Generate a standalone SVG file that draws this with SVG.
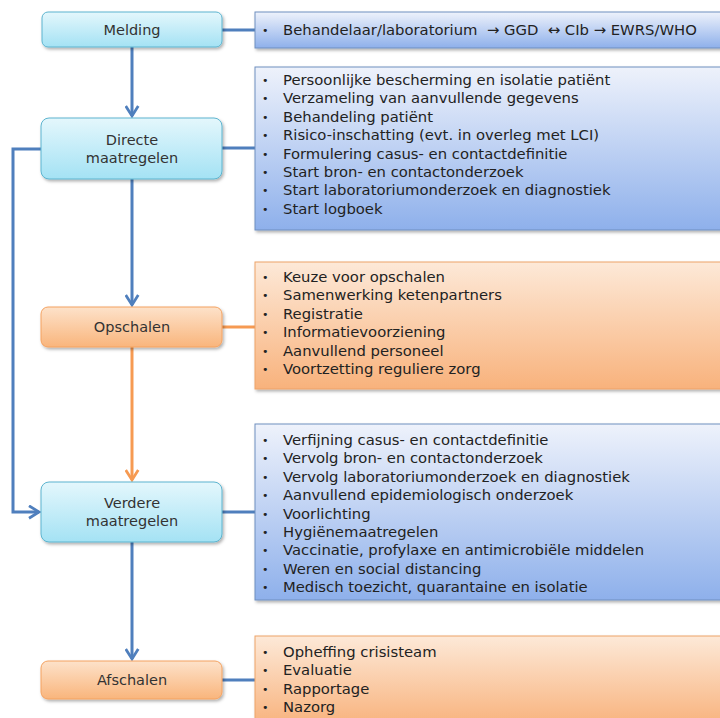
<svg xmlns="http://www.w3.org/2000/svg" width="720" height="718" viewBox="0 0 720 718">
<defs>
<linearGradient id="gNode" x1="0" y1="0" x2="0" y2="1"><stop offset="0" stop-color="#e4f7fc"/><stop offset="1" stop-color="#a4e2f4"/></linearGradient>
<linearGradient id="gNodeO" x1="0" y1="0" x2="0" y2="1"><stop offset="0" stop-color="#fde2ca"/><stop offset="1" stop-color="#f9b57c"/></linearGradient>
<linearGradient id="gBox" x1="0" y1="0" x2="0" y2="1"><stop offset="0" stop-color="#eef2fb"/><stop offset="1" stop-color="#8eb0eb"/></linearGradient>
<linearGradient id="gBoxO" x1="0" y1="0" x2="0" y2="1"><stop offset="0" stop-color="#fde9d8"/><stop offset="1" stop-color="#f8b27c"/></linearGradient>
<filter id="sh" x="-5%" y="-10%" width="115%" height="130%"><feDropShadow dx="1.5" dy="2" stdDeviation="1.5" flood-color="#000" flood-opacity="0.3"/></filter>
<marker id="aB" viewBox="0 0 12 12" refX="10" refY="6" markerWidth="5" markerHeight="5" markerUnits="strokeWidth" orient="auto"><path d="M2,1 L10,6 L2,11" fill="none" stroke="#4f7fbd" stroke-width="2.2"/></marker>
<marker id="aO" viewBox="0 0 12 12" refX="10" refY="6" markerWidth="5" markerHeight="5" markerUnits="strokeWidth" orient="auto"><path d="M2,1 L10,6 L2,11" fill="none" stroke="#f69a52" stroke-width="2.2"/></marker>
</defs>
<style>
.node{fill:url(#gNode);stroke:#5cb4cf;stroke-width:1;filter:url(#sh)}
.nodeO{fill:url(#gNodeO);stroke:#f4a261;stroke-width:1;filter:url(#sh)}
.box{fill:url(#gBox);stroke:#6f8fbf;stroke-width:1;filter:url(#sh)}
.boxO{fill:url(#gBoxO);stroke:#eea368;stroke-width:1;filter:url(#sh)}
.lbl{font-family:"DejaVu Sans",Verdana,sans-serif;font-size:14.5px;fill:#333;text-anchor:middle}
.t{font-family:"DejaVu Sans",Verdana,sans-serif;font-size:14.8px;fill:#222}
.bl{font-family:"DejaVu Sans",Verdana,sans-serif;font-size:11px;fill:#222}
.cb{fill:none;stroke:#4f7fbd;stroke-width:3}
.co{fill:none;stroke:#f69a52;stroke-width:3}
</style>
<rect width="720" height="718" fill="#ffffff"/>
<g id="connectors">
<line class="cb" x1="222" y1="30" x2="256" y2="30"/>
<line class="cb" x1="132" y1="47" x2="132" y2="116" marker-end="url(#aB)"/>
<line class="cb" x1="222" y1="148" x2="256" y2="148"/>
<polyline class="cb" points="41,149 13,149 13,512 39,512" marker-end="url(#aB)"/>
<line class="cb" x1="132" y1="179" x2="132" y2="305" marker-end="url(#aB)"/>
<line class="co" x1="222" y1="327" x2="256" y2="327"/>
<line class="co" x1="132" y1="347" x2="132" y2="480" marker-end="url(#aO)"/>
<line class="cb" x1="222" y1="512" x2="256" y2="512"/>
<line class="cb" x1="132" y1="542" x2="132" y2="659" marker-end="url(#aB)"/>
<line class="cb" x1="222" y1="680" x2="256" y2="680"/>
</g>
<g id="melding"><rect class="node" x="42" y="12" width="180" height="35" rx="6"/><text class="lbl" x="132" y="35">Melding</text></g>
<g id="directe"><rect class="node" x="41" y="118" width="181" height="61" rx="8"/><text class="lbl" x="132" y="145">Directe</text><text class="lbl" x="132" y="163">maatregelen</text></g>
<g id="opschalen"><rect class="nodeO" x="41" y="307" width="181" height="40" rx="7"/><text class="lbl" x="132" y="332">Opschalen</text></g>
<g id="verdere"><rect class="node" x="41" y="482" width="181" height="60" rx="8"/><text class="lbl" x="132" y="508">Verdere</text><text class="lbl" x="132" y="526">maatregelen</text></g>
<g id="afschalen"><rect class="nodeO" x="41" y="661" width="181" height="38" rx="7"/><text class="lbl" x="132" y="685">Afschalen</text></g>
<g id="box-melding"><rect class="box" x="255" y="12" width="470" height="36"/>
<text class="bl" x="262" y="34">•</text><text class="t" x="283" y="35" xml:space="preserve">Behandelaar/laboratorium  → GGD  ↔ CIb → EWRS/WHO</text></g>
<g id="box-directe"><rect class="box" x="255" y="67" width="470" height="163"/>
<g class="bl">
<text x="262" y="84">•</text><text x="262" y="102.4">•</text><text x="262" y="120.8">•</text><text x="262" y="139.2">•</text><text x="262" y="157.6">•</text><text x="262" y="176">•</text><text x="262" y="194.4">•</text><text x="262" y="212.8">•</text>
</g>
<g class="t">
<text x="283" y="85">Persoonlijke bescherming en isolatie patiënt</text>
<text x="283" y="103.4">Verzameling van aanvullende gegevens</text>
<text x="283" y="121.8">Behandeling patiënt</text>
<text x="283" y="140.2">Risico-inschatting (evt. in overleg met LCI)</text>
<text x="283" y="158.6">Formulering casus- en contactdefinitie</text>
<text x="283" y="177">Start bron- en contactonderzoek</text>
<text x="283" y="195.4">Start laboratoriumonderzoek en diagnostiek</text>
<text x="283" y="213.8">Start logboek</text>
</g></g>
<g id="box-opschalen"><rect class="boxO" x="255" y="262" width="470" height="127"/>
<g class="bl">
<text x="262" y="281">•</text><text x="262" y="299.4">•</text><text x="262" y="317.8">•</text><text x="262" y="336.2">•</text><text x="262" y="354.6">•</text><text x="262" y="373">•</text>
</g>
<g class="t">
<text x="283" y="282">Keuze voor opschalen</text>
<text x="283" y="300.4">Samenwerking ketenpartners</text>
<text x="283" y="318.8">Registratie</text>
<text x="283" y="337.2">Informatievoorziening</text>
<text x="283" y="355.6">Aanvullend personeel</text>
<text x="283" y="374">Voortzetting reguliere zorg</text>
</g></g>
<g id="box-verdere"><rect class="box" x="255" y="424" width="470" height="176"/>
<g class="bl">
<text x="262" y="444">•</text><text x="262" y="462.4">•</text><text x="262" y="480.8">•</text><text x="262" y="499.2">•</text><text x="262" y="517.6">•</text><text x="262" y="536">•</text><text x="262" y="554.4">•</text><text x="262" y="572.8">•</text><text x="262" y="591.2">•</text>
</g>
<g class="t">
<text x="283" y="445">Verfijning casus- en contactdefinitie</text>
<text x="283" y="463.4">Vervolg bron- en contactonderzoek</text>
<text x="283" y="481.8">Vervolg laboratoriumonderzoek en diagnostiek</text>
<text x="283" y="500.2">Aanvullend epidemiologisch onderzoek</text>
<text x="283" y="518.6">Voorlichting</text>
<text x="283" y="537">Hygiënemaatregelen</text>
<text x="283" y="555.4">Vaccinatie, profylaxe en antimicrobiële middelen</text>
<text x="283" y="573.8">Weren en social distancing</text>
<text x="283" y="592.2">Medisch toezicht, quarantaine en isolatie</text>
</g></g>
<g id="box-afschalen"><rect class="boxO" x="255" y="636" width="470" height="90"/>
<g class="bl">
<text x="262" y="656">•</text><text x="262" y="674.4">•</text><text x="262" y="692.8">•</text><text x="262" y="711.2">•</text>
</g>
<g class="t">
<text x="283" y="657">Opheffing crisisteam</text>
<text x="283" y="675.4">Evaluatie</text>
<text x="283" y="693.8">Rapportage</text>
<text x="283" y="712.2">Nazorg</text>
</g></g>
</svg>
